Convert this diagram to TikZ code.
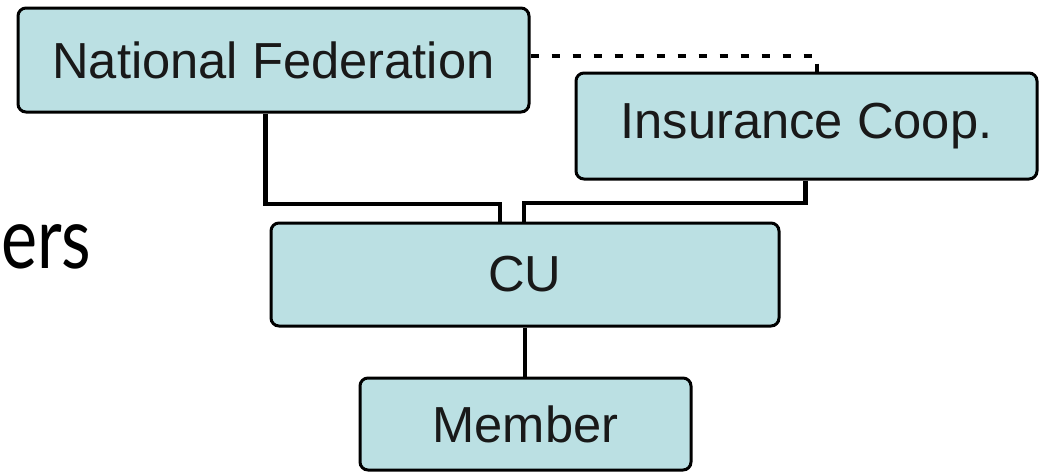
\documentclass[tikz,border=0pt]{standalone}
\usepackage{fontspec}
\setmainfont{Liberation Sans}
\newfontfamily\bigsans{Lato}

\begin{document}
\begin{tikzpicture}[x=0.75pt, y=-0.75pt,
  orgbox/.style={draw=black, line width=2.25pt, fill=box_blue, rounded corners=6pt,
    inner sep=0pt, font=\fontsize{38}{40}\selectfont, text=black!90},
  link/.style={draw=black, line width=3.5pt},
  dotlink/.style={draw=black, line width=3.5pt, dash pattern=on 6pt off 9.75pt}]

\definecolor{box_blue}{HTML}{BBE0E3}

\useasboundingbox (0,0) rectangle (1040,472);

% side text at the left edge
\node[anchor=base west, inner sep=0pt, xscale=0.8, transform shape,
  font=\bigsans\fontsize{64}{64}\selectfont] (side) at (1,268) {ers};

% boxes
\node[orgbox, minimum width=383.25pt, minimum height=78pt] (nf) at (273.5,60) {National Federation};
\node[orgbox, minimum width=345.75pt, minimum height=79.5pt] (ins) at (806.5,126) {Insurance Coop.};
\node[orgbox, minimum width=381pt, minimum height=77.25pt] (cu) at (525,274.5) {CU};
\node[orgbox, minimum width=248.25pt, minimum height=69pt] (mem) at (525.5,424) {Member};

% junctions
\coordinate (jl) at (500,204);
\coordinate (jr) at (524,203);
\coordinate (dt) at (817,56);

% connectors
\draw[link] ([xshift=-6pt]nf.south) |- (jl) -- (jl |- cu.north);
\draw[link] ([xshift=-1pt]ins.south) |- (jr) -- (jr |- cu.north);
\draw[link] (cu.south) -- (cu.south |- mem.north);
\draw[dotlink] (nf.east |- dt) -- (dt) -- (dt |- ins.north);

\end{tikzpicture}
\end{document}
